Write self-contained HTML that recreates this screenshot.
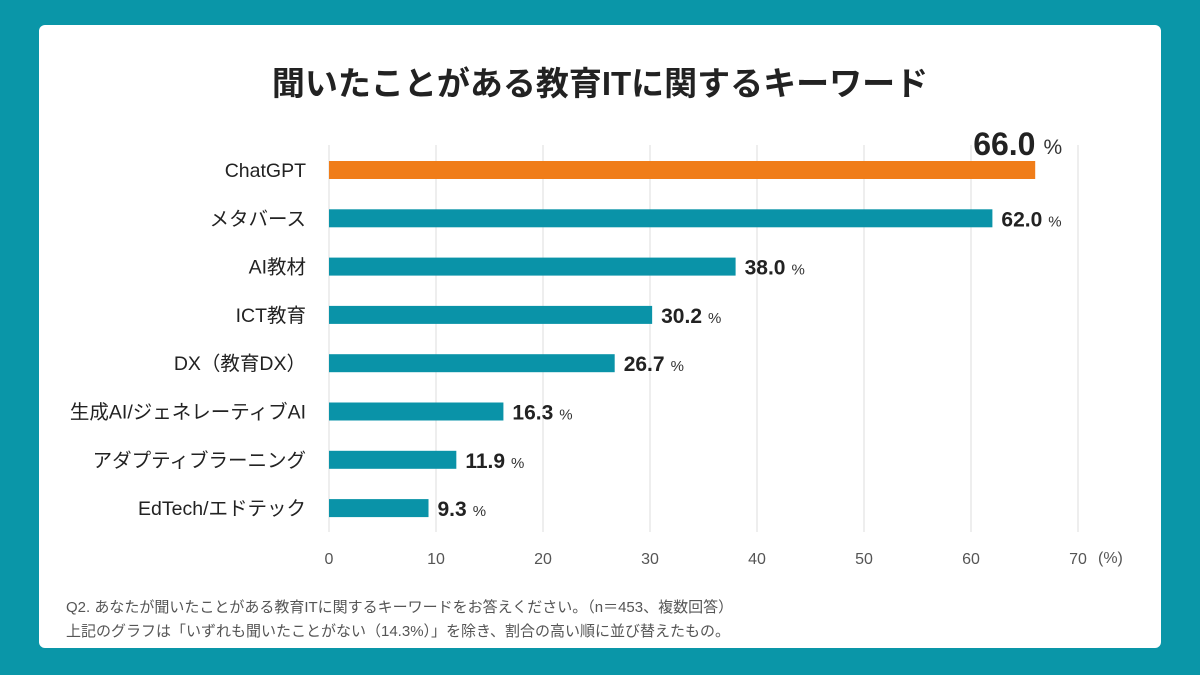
<!DOCTYPE html>
<html><head><meta charset="utf-8"><style>
html,body{margin:0;padding:0}
body{width:1200px;height:675px;background:#0a96a8;position:relative;overflow:hidden;font-family:"Liberation Sans","Noto Sans CJK JP",sans-serif}
#card{position:absolute;left:39px;top:25px;width:1122px;height:623px;background:#fff;border-radius:6px}
svg{position:absolute;left:0;top:0}
</style></head><body>
<div id="card"></div>
<svg id="chart" width="1200" height="675"></svg>
<script>
const categories=["ChatGPT","メタバース","AI教材","ICT教育","DX（教育DX）","生成AI/ジェネレーティブAI","アダプティブラーニング","EdTech/エドテック"];
const values=[66.0,62.0,38.0,30.2,26.7,16.3,11.9,9.3];
const ticks=[0,10,20,30,40,50,60,70];
const NS="http://www.w3.org/2000/svg";
const svg=document.getElementById('chart');
const x0=329,x1=1078,vmax=70;
const xs=v=>x0+(x1-x0)*v/vmax;
const ys=i=>170+i*48.3;
const F='"Liberation Sans","Noto Sans CJK JP",sans-serif';
function mk(t,a,txt){const e=document.createElementNS(NS,t);for(const k in a)e.setAttribute(k,a[k]);if(txt!==undefined)e.textContent=txt;svg.appendChild(e);return e;}
let t=mk('text',{x:600,y:95,'text-anchor':'middle','font-size':33,'font-weight':'bold',fill:'#222','font-family':F},'聞いたことがある教育ITに関するキーワード');


ticks.forEach(v=>{
 const g=mk('line',{x1:xs(v),x2:xs(v),y1:145,y2:532,stroke:'#ddd','stroke-width':1});
 
 
 const l=mk('text',{x:xs(v),y:564,'text-anchor':'middle','font-size':16,fill:'#555','font-family':F},String(v));
 
 
});
t=mk('text',{x:1098,y:563,'font-size':16,fill:'#555','font-family':F},'(%)');


categories.forEach((c,i)=>{
 const y=ys(i);
 const b=mk('rect',{x:x0,y:y-9,width:xs(values[i])-x0,height:18,fill:i===0?'#f07d19':'#0a93a8'});
 
 
 const l=mk('text',{x:306,y:y+7,'text-anchor':'end','font-size':19.5,fill:'#222','font-family':F},c);
 
 
 const big=i===0;
 const v=mk('text',{x:big?xs(values[i])-62:xs(values[i])+9,y:big?y-15:y+8,'font-size':big?32:21,'font-weight':'bold',fill:'#222','font-family':F},values[i].toFixed(1));
 
 
 const bb=v.getBBox();
 const p=mk('text',{x:bb.x+bb.width+(big?8:6),y:big?y-16:y+8,'font-size':big?21:15,fill:'#333','font-family':F},'%');
 
 
});
t=mk('text',{x:66,y:612,'font-size':15,fill:'#555','font-family':F},'Q2. あなたが聞いたことがある教育ITに関するキーワードをお答えください。（n＝453、複数回答）');


t=mk('text',{x:66,y:636,'font-size':15,fill:'#555','font-family':F},'上記のグラフは「いずれも聞いたことがない（14.3%）」を除き、割合の高い順に並び替えたもの。');


</script>
</body></html>
